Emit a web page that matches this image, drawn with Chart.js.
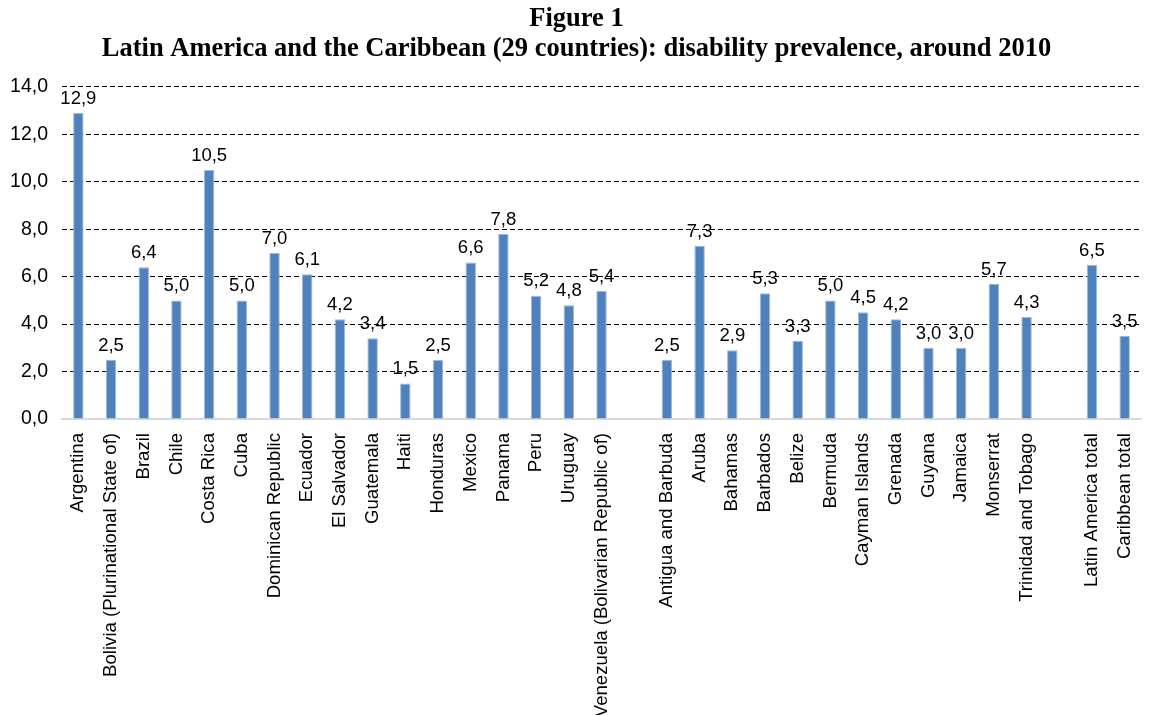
<!DOCTYPE html>
<html>
<head>
<meta charset="utf-8">
<script src="https://cdn.jsdelivr.net/npm/chart.js@4/dist/chart.umd.min.js"></script>
<style>
  html, body { margin: 0; padding: 0; background: #fff; }
</style>
</head>
<body>
<canvas id="myChart" width="1153" height="715"></canvas>
<script>
// chart data
var latinCountries = ["Argentina", "Bolivia (Plurinational State of)", "Brazil", "Chile", "Costa Rica", "Cuba",
    "Dominican Republic", "Ecuador", "El Salvador", "Guatemala", "Haiti", "Honduras", "Mexico", "Panama",
    "Peru", "Uruguay", "Venezuela (Bolivarian Republic of)"];
var latinValues = [12.9, 2.5, 6.4, 5.0, 10.5, 5.0, 7.0, 6.1, 4.2, 3.4, 1.5, 2.5, 6.6, 7.8, 5.2, 4.8, 5.4];

var caribCountries = ["Antigua and Barbuda", "Aruba", "Bahamas", "Barbados", "Belize", "Bermuda",
    "Cayman Islands", "Grenada", "Guyana", "Jamaica", "Monserrat", "Trinidad and Tobago"];
var caribValues = [2.5, 7.3, 2.9, 5.3, 3.3, 5.0, 4.5, 4.2, 3.0, 3.0, 5.7, 4.3];

var totalLabels = ["Latin America total", "Caribbean total"];
var totalValues = [6.5, 3.5];

var yTicks = [0, 2, 4, 6, 8, 10, 12, 14];

var titleLines = ["Figure 1", "Latin America and the Caribbean (29 countries): disability prevalence, around 2010"];

// empty slot between the groups
var labels = latinCountries.concat([""], caribCountries, [""], totalLabels);
var values = latinValues.concat([null], caribValues, [null], totalValues);

function comma(v) {
    return Number(v).toFixed(1).replace('.', ',');
}

var valueLabels = {
    id: 'valueLabels',
    afterDatasetsDraw: function (chart) {
        var ctx = chart.ctx;
        var meta = chart.getDatasetMeta(0);
        ctx.save();
        ctx.font = '18.5px "Liberation Sans", Arial, sans-serif';
        ctx.fillStyle = '#000';
        ctx.textAlign = 'center';
        ctx.textBaseline = 'bottom';
        meta.data.forEach(function (bar, i) {
            var v = chart.data.datasets[0].data[i];
            if (v === null) return;
            ctx.fillText(comma(v), bar.x, bar.y - 5);
        });
        ctx.restore();
    }
};

const el = document.getElementById("myChart");
var barChart = new Chart(el, {
    type: 'bar',
    data: {
        labels: labels,
        datasets: [{
            data: values,
            backgroundColor: "#4f81bd",
            borderColor: "#9db8da",
            borderWidth: 1,
            borderSkipped: 'bottom',
            barPercentage: 0.32,
            categoryPercentage: 1.0
        }]
    },
    options: {
        responsive: false,
        animation: false,
        layout: { padding: { top: 4, left: 0, right: 0, bottom: 0 } },
        plugins: {
            legend: { display: false },
            tooltip: { enabled: false },
            title: {
                display: true,
                text: titleLines,
                color: '#000',
                font: { family: '"Liberation Serif", "Times New Roman", serif', size: 26.5, weight: 'bold', lineHeight: 1.13 },
                padding: { top: 0, bottom: 23 }
            }
        },
        scales: {
            x: {
                grid: { display: false },
                border: { color: '#d9d9d9', width: 2 },
                ticks: {
                    autoSkip: false,
                    minRotation: 90,
                    maxRotation: 90,
                    padding: 6,
                    color: '#000',
                    font: { family: '"Liberation Sans", Arial, sans-serif', size: 18.6 }
                },
                afterFit: function (scale) { scale.height = 296; }
            },
            y: {
                min: 0,
                max: 14,
                afterBuildTicks: function (scale) {
                    scale.ticks = yTicks.map(function (v) { return { value: v }; });
                },
                border: { display: false, dash: [5, 3] },
                grid: {
                    drawTicks: false,
                    lineWidth: 1,
                    color: function (c) { return c.tick && c.tick.value === 0 ? 'rgba(0,0,0,0)' : '#000'; }
                },
                ticks: {
                    padding: 14,
                    color: '#000',
                    font: { family: '"Liberation Sans", Arial, sans-serif', size: 19.5 },
                    callback: function (v) { return comma(v); }
                },
                afterFit: function (scale) { scale.width = 62; }
            }
        }
    },
    plugins: [valueLabels]
});
</script>
</body>
</html>
